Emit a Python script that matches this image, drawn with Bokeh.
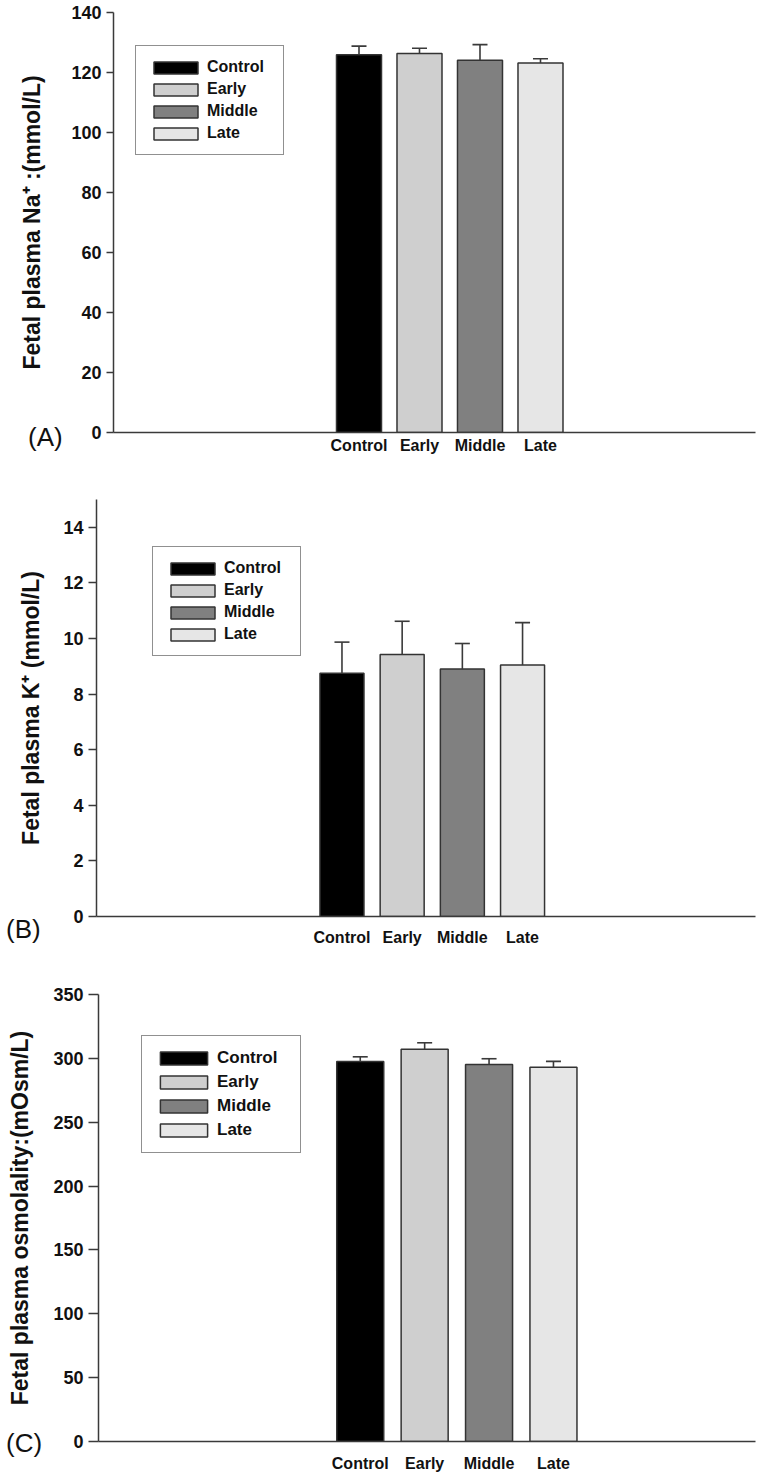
from bokeh.plotting import figure
from bokeh.models import Range1d, FixedTicker, Whisker, TeeHead, ColumnDataSource, Div
from bokeh.embed import file_html
from bokeh.resources import INLINE

categories = ["Control", "Early", "Middle", "Late"]
bar_colors = ["#000000", "#cfcfcf", "#808080", "#e6e6e6"]

na_mean = [125.9, 126.3, 124.1, 123.2]
na_err = [2.9, 1.8, 5.2, 1.4]

k_mean = [8.75, 9.42, 8.9, 9.05]
k_err = [1.12, 1.2, 0.92, 1.52]

osm_mean = [297.5, 307.2, 295.2, 293.1]
osm_err = [3.7, 5.0, 4.5, 4.5]

na_ticks = [0, 20, 40, 60, 80, 100, 120, 140]
k_ticks = [0, 2, 4, 6, 8, 10, 12, 14]
osm_ticks = [0, 50, 100, 150, 200, 250, 300, 350]

panel_letters = ["(A)", "(B)", "(C)"]

FONT = "Liberation Sans"
AX = "#3a3a3a"


def panel(means, errs, ylabel, yend, yticks, xr, bar_w, height, mbt, mbb, mbl,
          tick_out, axis_std, xstd, leg_loc, gw, gh, lh, lw, legfs):
    xs = list(range(1, len(categories) + 1))
    src = ColumnDataSource(dict(
        x=xs, cat=categories, mean=means,
        upper=[m + e for m, e in zip(means, errs)],
        color=bar_colors,
    ))
    p = figure(width=759, height=height, x_range=Range1d(*xr), y_range=Range1d(0, yend),
               output_backend="svg", toolbar_location=None,
               min_border_top=mbt, min_border_bottom=mbb, min_border_left=mbl, min_border_right=4)
    p.outline_line_color = None
    p.xgrid.visible = False
    p.ygrid.visible = False

    p.vbar(x="x", top="mean", width=bar_w, bottom=0, source=src, fill_color="color",
           line_color="#333333", line_width=1.5, legend_field="cat")
    wh = Whisker(source=src, base="x", upper="upper", lower="mean", dimension="height",
                 line_color=AX, line_width=1.6,
                 upper_head=TeeHead(size=15, line_color=AX, line_width=1.6),
                 lower_head=None, level="glyph")
    p.add_layout(wh)

    # x axis
    p.xaxis.ticker = FixedTicker(ticks=xs)
    p.xaxis.major_label_overrides = {x: c for x, c in zip(xs, categories)}
    p.xaxis.major_tick_out = 0
    p.xaxis.major_tick_in = 0
    p.xaxis.minor_tick_line_color = None
    p.xaxis.axis_line_color = AX
    p.xaxis.axis_line_width = 1.5
    p.xaxis.major_label_text_font = FONT
    p.xaxis.major_label_text_font_style = "bold"
    p.xaxis.major_label_text_font_size = "16px"
    p.xaxis.major_label_text_color = "#111111"
    p.xaxis.major_label_standoff = xstd

    # y axis
    p.yaxis.ticker = FixedTicker(ticks=yticks)
    p.yaxis.minor_tick_line_color = None
    p.yaxis.major_tick_in = 0
    p.yaxis.major_tick_out = tick_out
    p.yaxis.major_tick_line_color = AX
    p.yaxis.major_tick_line_width = 1.5
    p.yaxis.axis_line_color = AX
    p.yaxis.axis_line_width = 1.5
    p.yaxis.major_label_text_font = FONT
    p.yaxis.major_label_text_font_style = "bold"
    p.yaxis.major_label_text_font_size = "18px"
    p.yaxis.major_label_text_color = "#111111"
    p.yaxis.major_label_standoff = 5
    p.yaxis.axis_label = ylabel
    p.yaxis.axis_label_text_font = FONT
    p.yaxis.axis_label_text_font_style = "bold"
    p.yaxis.axis_label_text_font_size = "23px"
    p.yaxis.axis_label_text_color = "#111111"
    p.yaxis.axis_label_standoff = axis_std

    lg = p.legend[0]
    lg.location = leg_loc
    lg.margin = 0
    lg.padding = 12
    lg.spacing = 4
    lg.glyph_width = gw
    lg.glyph_height = gh
    lg.label_height = lh
    lg.label_width = lw
    lg.label_standoff = 4
    lg.label_text_font = FONT
    lg.label_text_font_style = "bold"
    lg.label_text_font_size = legfs
    lg.label_text_color = "#111111"
    lg.border_line_color = "#222222"
    lg.border_line_width = 1.5
    lg.background_fill_alpha = 1.0
    return p


def letter(text, left, top):
    return Div(text=text, styles={
        "position": "absolute", "left": f"{left}px", "top": f"{top}px",
        "font-family": FONT, "font-size": "26px", "line-height": "1",
        "color": "#111111", "margin": "0", "padding": "0", "z-index": "5",
    })


pa = panel(na_mean, na_err, "Fetal plasma Na\u207a :(mmol/L)", 140, na_ticks,
           (-3.058, 7.554), 0.744, 470, 12, 38, 113, 7, 23, 4,
           (22, 277), 55, 15, 18, 64, "16px")
pb = panel(k_mean, k_err, "Fetal plasma K\u207a (mmol/L)", 15, k_ticks,
           (-3.078, 7.870), 0.731, 485, 29, 39, 96, 8, 16, 12,
           (56, 260), 55, 15, 18, 64, "16px")
pc = panel(osm_mean, osm_err, "Fetal plasma osmolality:(mOsm/L)", 350, osm_ticks,
           (-3.064, 7.137), 0.73, 521, 39, 35, 98, 10, 17, 13,
           (43, 288), 59, 16, 20, 71, "17px")

la = letter(panel_letters[0], 28, 424)
lb = letter(panel_letters[1], 6, 916)
lc = letter(panel_letters[2], 6, 1430)

open("out.html", "w").write(file_html([pa, pb, pc, la, lb, lc], INLINE))
